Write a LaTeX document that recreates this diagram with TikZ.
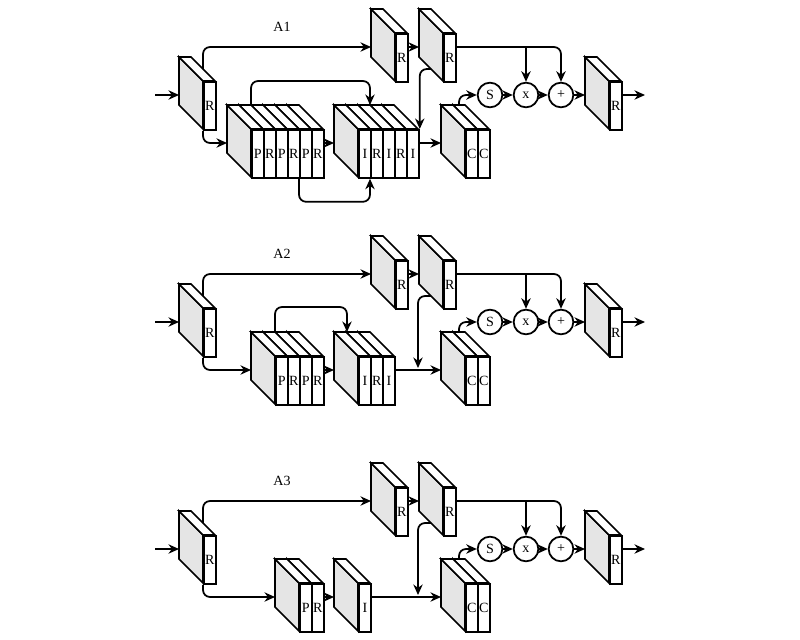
\documentclass[tikz,border=0pt]{standalone}
\usepackage{fontspec}
\setmainfont{Liberation Serif}
\usetikzlibrary{arrows.meta,calc,positioning}

% one slab: name, x, y (top left of front face), letter
\newcommand{\slab}[4]{%
  \filldraw[fill=black!10] (#2,#3) -- ++(-24,-24) -- ++(0,48) -- ++(24,24) -- cycle;
  \filldraw[fill=white] (#2,#3) -- ++(-24,-24) -- ++(12,0) -- ++(24,24) -- cycle;
  \node[face] (#1) at (#2,#3) {#4};
  \coordinate (#1-in) at ({#2-24},{#3+14});
  \coordinate (#1-out) at ({#2+12},{#3+14});
  \coordinate (#1-top) at (#2,{#3-12});
  \coordinate (#1-low) at ({#2-12},{#3+36});
}

\begin{document}
\begin{tikzpicture}[
    x=0.03cm, y=-0.03cm,
    line width=1.5pt,
    font=\fontsize{12}{14}\selectfont,
    %
    face/.style={draw, fill=white, anchor=north west, inner sep=0pt,
                 minimum width=0.36cm, minimum height=1.44cm},
    op/.style={draw, circle, fill=white, inner sep=0pt, minimum size=0.74cm},
    flow/.style={-{Stealth[length=9pt,width=8pt]}, rounded corners=6pt}
    ]

    \useasboundingbox (0,0) rectangle (800,640);

    % parts that the three blocks share
    \foreach \p/\dy in {1/0, 2/227, 3/454} {
    \begin{scope}[shift={(0,\dy)}]
        \node (lab-\p) at (282,27) {A\p};
        \slab{rin-\p}{203}{81}{R}
        \slab{ra-\p}{395}{33}{R}
        \slab{rb-\p}{443}{33}{R}
        \slab{cc2-\p}{477}{129}{C}
        \slab{cc1-\p}{465}{129}{C}
        \node[op] (s-\p) at (490,95) {S};
        \node[op] (x-\p) at (526,95) {x};
        \node[op] (add-\p) at (561,95) {+};
        \slab{rout-\p}{609}{81}{R}
        \coordinate (in-\p) at (155,95);
        \coordinate (out-\p) at (645,95);
        %
        \draw[flow] (in-\p) -- (rin-\p-in);
        \draw[flow] (rin-\p-top) |- (ra-\p-in);
        \draw[flow] (ra-\p-out) -- (rb-\p-in);
        \draw[flow] (rb-\p-out) -| (add-\p.north);
        \draw[flow] (rb-\p-out -| x-\p.north) -- (x-\p.north);
        \draw[flow] ($(cc1-\p.north west)+(-6,-24)$) |- (s-\p.west);
        \draw[flow] (s-\p) -- (x-\p);
        \draw[flow] (x-\p) -- (add-\p);
        \draw[flow] (add-\p) -- (rout-\p-in);
        \draw[flow] (rout-\p-out) -- (out-\p);
    \end{scope}
    }

    % A1
    \foreach \lab/\k in {R/6,P/5,R/4,P/3,R/2,P/1} {\slab{pr\k-1}{239+12*\k}{129}{\lab}}
    \foreach \lab/\k in {I/5,R/4,I/3,R/2,I/1} {\slab{ir\k-1}{346+12*\k}{129}{\lab}}
    \draw[flow] (rin-1.south west) |- (pr1-1-in);
    \draw[flow] (pr6-1-out) -- (ir1-1-in);
    \draw[flow] ($(pr1-1.north west)+(0,-24)$) -- ++(0,-24) -| ($(ir2-1.north west)+(0,-24)$);
    \draw[flow] (pr5-1.south west) -- ++(0,23) -| (ir2-1.south west);
    \draw[flow] (ir5-1-out) -- (cc1-1-in);
    \draw[flow] (rb-1-low) -| (ir5-1.north east);

    % A2
    \begin{scope}[shift={(0,227)}]
        \foreach \lab/\k in {R/4,P/3,R/2,P/1} {\slab{pr\k-2}{263+12*\k}{129}{\lab}}
        \foreach \lab/\k in {I/3,R/2,I/1} {\slab{ir\k-2}{346+12*\k}{129}{\lab}}
        \coordinate (join-2) at (418,141);
    \end{scope}
    \draw[flow] (rin-2.south west) |- (pr1-2-in);
    \draw[flow] (pr4-2-out) -- (ir1-2-in);
    \draw[flow] ($(pr1-2.north west)+(0,-24)$) -- ++(0,-25) -| ($(ir1-2.north west)+(-11,-24)$);
    \draw[flow] (ir3-2-out) -- (cc1-2-in);
    \draw[flow] (rb-2-low) -| (join-2);

    % A3
    \begin{scope}[shift={(0,454)}]
        \slab{pr2-3}{311}{129}{R}
        \slab{pr1-3}{299}{129}{P}
        \slab{ir1-3}{358}{129}{I}
        \coordinate (join-3) at (418,141);
    \end{scope}
    \draw[flow] (rin-3.south west) |- (pr1-3-in);
    \draw[flow] (pr2-3-out) -- (ir1-3-in);
    \draw[flow] (ir1-3-out) -- (cc1-3-in);
    \draw[flow] (rb-3-low) -| (join-3);

\end{tikzpicture}
\end{document}
